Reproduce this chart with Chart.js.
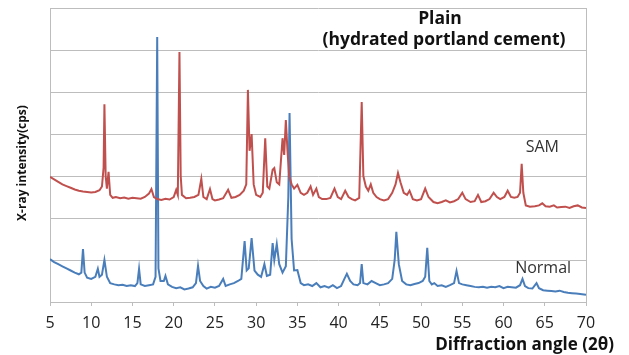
<!DOCTYPE html>
<html>
<head>
<meta charset="utf-8">
<script src="https://cdn.jsdelivr.net/npm/chart.js@4.4.1/dist/chart.umd.min.js"></script>
<style>
  html, body { margin: 0; padding: 0; background: #fff; }
  #wrap { width: 629px; height: 355px; }
</style>
</head>
<body>
<div id="wrap"><canvas id="xrdChart" width="629" height="355"></canvas></div>
<script>
// XRD data (intensity in gridline units)
const samAngle = [5.0, 5.5, 6.0, 6.5, 7.0, 7.5, 8.0, 8.5, 9.0, 9.5, 10.0, 10.5, 11.0, 11.3, 11.5, 11.6, 11.75, 11.9, 12.1, 12.3,
  12.6, 13.0, 13.5, 14.0, 14.5, 15.0, 15.5, 16.0, 16.5, 17.0, 17.3, 17.6, 18.0, 18.5, 19.0, 19.5, 20.0, 20.3, 20.5, 20.7,
  20.85, 21.0, 21.5, 22.0, 22.5, 23.0, 23.35, 23.6, 24.0, 24.4, 24.7, 25.0, 25.5, 26.0, 26.6, 27.0, 27.5, 28.0, 28.5, 28.8,
  29.0, 29.2, 29.45, 29.7, 30.0, 30.5, 30.8, 31.1, 31.35, 31.6, 32.0, 32.2, 32.5, 32.8, 33.2, 33.4, 33.6, 33.8, 34.0, 34.3,
  34.6, 35.0, 35.4, 35.8, 36.2, 36.6, 36.9, 37.3, 37.6, 38.0, 38.5, 39.0, 39.5, 39.9, 40.3, 40.8, 41.2, 41.6, 42.0, 42.5,
  42.8, 43.0, 43.3, 43.6, 43.9, 44.2, 44.6, 45.0, 45.5, 46.0, 46.5, 46.9, 47.2, 47.5, 47.9, 48.3, 48.6, 49.0, 49.5, 50.0,
  50.5, 50.9, 51.5, 52.0, 52.5, 53.0, 53.5, 54.0, 54.5, 55.0, 55.4, 56.0, 56.5, 56.9, 57.3, 57.8, 58.3, 58.8, 59.2, 59.6,
  60.1, 60.5, 60.9, 61.3, 61.7, 62.0, 62.2, 62.4, 62.7, 63.2, 63.8, 64.3, 64.7, 65.1, 65.6, 66.1, 66.5, 67.0, 67.5, 68.0,
  68.5, 69.0, 69.5, 70.0];
const samIntensity = [2.98, 2.92, 2.86, 2.80, 2.76, 2.72, 2.68, 2.65, 2.63, 2.62, 2.61, 2.62, 2.66, 2.75, 3.2, 4.71, 3.0, 2.7, 3.1, 2.55,
  2.48, 2.5, 2.47, 2.49, 2.46, 2.48, 2.47, 2.46, 2.5, 2.58, 2.69, 2.5, 2.45, 2.43, 2.46, 2.44, 2.5, 2.67, 2.55, 5.95,
  3.0, 2.55, 2.47, 2.48, 2.5, 2.55, 2.93, 2.5, 2.45, 2.69, 2.45, 2.42, 2.44, 2.47, 2.67, 2.48, 2.5, 2.55, 2.65, 2.8,
  5.05, 3.6, 4.0, 2.8, 2.55, 2.5, 2.6, 3.9, 2.75, 2.7, 3.15, 3.19, 2.85, 2.8, 3.9, 3.5, 4.33, 3.6, 3.0, 2.8,
  2.7, 2.79, 2.6, 2.55, 2.6, 2.75, 2.55, 2.7, 2.5, 2.45, 2.45, 2.48, 2.7, 2.5, 2.45, 2.65, 2.5, 2.45, 2.42, 2.48,
  4.76, 3.0, 2.75, 2.65, 2.8, 2.6, 2.5, 2.45, 2.42, 2.45, 2.6, 2.8, 3.07, 2.85, 2.6, 2.55, 2.65, 2.45, 2.42, 2.45,
  2.7, 2.5, 2.38, 2.35, 2.38, 2.42, 2.37, 2.4, 2.45, 2.6, 2.45, 2.38, 2.4, 2.55, 2.38, 2.4, 2.45, 2.6, 2.5, 2.45,
  2.5, 2.65, 2.5, 2.48, 2.5, 2.6, 3.29, 2.6, 2.3, 2.27, 2.28, 2.3, 2.35, 2.28, 2.27, 2.3, 2.25, 2.26, 2.27, 2.24,
  2.28, 2.3, 2.25, 2.24];

const normalAngle = [5.0, 5.5, 6.0, 6.5, 7.0, 7.5, 8.0, 8.5, 8.8, 9.0, 9.2, 9.5, 10.0, 10.5, 10.8, 11.0, 11.3, 11.6, 11.9, 12.3,
  12.8, 13.3, 13.8, 14.3, 14.8, 15.3, 15.6, 15.8, 16.0, 16.5, 17.0, 17.5, 17.8, 18.0, 18.15, 18.4, 18.8, 19.0, 19.3, 19.8,
  20.3, 20.8, 21.3, 21.8, 22.3, 22.7, 22.95, 23.2, 23.6, 24.0, 24.5, 25.0, 25.5, 26.0, 26.3, 26.8, 27.3, 27.8, 28.2, 28.6,
  28.85, 29.1, 29.45, 29.8, 30.2, 30.6, 31.0, 31.3, 31.7, 32.0, 32.2, 32.5, 32.8, 33.2, 33.6, 33.9, 34.05, 34.3, 34.6, 35.0,
  35.4, 35.8, 36.3, 36.8, 37.3, 37.8, 38.3, 38.8, 39.3, 39.8, 40.3, 40.7, 41.0, 41.4, 41.8, 42.3, 42.6, 42.8, 43.0, 43.5,
  44.0, 44.5, 45.0, 45.5, 46.0, 46.5, 46.8, 47.0, 47.3, 47.7, 48.2, 48.7, 49.2, 49.7, 50.2, 50.5, 50.75, 51.0, 51.3, 51.6,
  52.0, 52.5, 53.0, 53.5, 54.0, 54.3, 54.6, 55.0, 55.5, 56.0, 56.5, 57.0, 57.5, 58.0, 58.5, 59.0, 59.5, 60.0, 60.5, 61.0,
  61.5, 62.0, 62.3, 62.6, 63.0, 63.5, 64.0, 64.3, 64.8, 65.3, 65.8, 66.3, 66.8, 67.3, 67.8, 68.3, 68.8, 69.3, 70.0];
const normalIntensity = [1.02, 0.95, 0.9, 0.85, 0.8, 0.75, 0.7, 0.66, 0.7, 1.26, 0.7, 0.58, 0.55, 0.6, 0.79, 0.6, 0.65, 1.0, 0.6, 0.45,
  0.42, 0.4, 0.41, 0.38, 0.4, 0.38, 0.45, 0.79, 0.42, 0.38, 0.4, 0.42, 0.6, 6.31, 0.8, 0.5, 0.5, 0.62, 0.42, 0.36,
  0.33, 0.35, 0.3, 0.32, 0.35, 0.45, 0.86, 0.5, 0.38, 0.32, 0.36, 0.34, 0.38, 0.55, 0.38, 0.42, 0.45, 0.5, 0.55, 1.45,
  0.75, 0.8, 1.52, 0.75, 0.65, 0.6, 0.9, 0.62, 0.65, 1.4, 1.0, 1.38, 0.9, 0.7, 0.85, 2.5, 4.5, 1.5, 0.75, 0.76,
  0.45, 0.4, 0.42, 0.38, 0.45, 0.35, 0.38, 0.34, 0.4, 0.33, 0.38, 0.55, 0.67, 0.5, 0.42, 0.4, 0.45, 0.9, 0.45, 0.42,
  0.5, 0.45, 0.4, 0.42, 0.45, 0.55, 1.0, 1.67, 0.9, 0.5, 0.42, 0.4, 0.43, 0.45, 0.5, 0.6, 1.29, 0.5, 0.42, 0.45,
  0.38, 0.4, 0.36, 0.4, 0.45, 0.74, 0.45, 0.42, 0.4, 0.38, 0.36, 0.35, 0.36, 0.34, 0.36, 0.35, 0.38, 0.33, 0.36, 0.35,
  0.34, 0.4, 0.55, 0.38, 0.33, 0.32, 0.45, 0.33, 0.28, 0.27, 0.26, 0.25, 0.27, 0.24, 0.22, 0.21, 0.2, 0.19, 0.17];

// Series names and where their labels sit (in data units)
const seriesNames = ['SAM', 'Normal'];
const labelAngle = [64.7, 64.8];
const labelIntensity = [3.69, 0.79];

const titleLines = ['Plain', '(hydrated portland cement)'];
const xTitle = 'Diffraction angle (2\u03b8)';
const yTitle = 'X-ray intensity(cps)';

const FONT = "'Open Sans', Lato, sans-serif";
const GRID = '#bdbdbd';

function toPoints(xs, ys) {
  return xs.map((x, i) => ({ x: x, y: ys[i] }));
}

// Texts inside the plot + frame
const textPlugin = {
  id: 'textPlugin',
  afterDraw(chart) {
    const ctx = chart.ctx;
    const area = chart.chartArea;
    const xs = chart.scales.x;
    const ys = chart.scales.y;
    ctx.save();

    // right side of the frame
    ctx.strokeStyle = GRID;
    ctx.lineWidth = 1;
    ctx.beginPath();
    ctx.moveTo(area.right + 0.5, area.top);
    ctx.lineTo(area.right + 0.5, area.bottom);
    ctx.stroke();

    // title
    ctx.fillStyle = '#111';
    ctx.textAlign = 'center';
    ctx.textBaseline = 'middle';
    ctx.font = 'bold 17.5px ' + FONT;
    ctx.fillText(titleLines[0], 440, 19);
    ctx.fillText(titleLines[1], 444, 40);

    // series labels
    ctx.font = '16px ' + FONT;
    ctx.fillStyle = '#333';
    seriesNames.forEach((name, i) => {
      ctx.fillText(name, xs.getPixelForValue(labelAngle[i]), ys.getPixelForValue(labelIntensity[i]));
    });

    // x axis title
    ctx.font = 'bold 17px ' + FONT;
    ctx.fillStyle = '#111';
    ctx.textAlign = 'right';
    ctx.fillText(xTitle, 614, 345);

    // y axis title
    ctx.translate(23, 163);
    ctx.rotate(-Math.PI / 2);
    ctx.textAlign = 'center';
    ctx.font = 'bold 12px ' + FONT;
    ctx.fillText(yTitle, 0, 0);
    ctx.restore();
  }
};

const ctxXrd = document.getElementById('xrdChart').getContext('2d');
const xrdChart = new Chart(ctxXrd, {
  type: 'scatter',
  data: {
    datasets: [
      {
        label: seriesNames[0],
        data: toPoints(samAngle, samIntensity),
        showLine: true,
        borderColor: '#c0504d',
        borderWidth: 2,
        pointRadius: 0,
        tension: 0
      },
      {
        label: seriesNames[1],
        data: toPoints(normalAngle, normalIntensity),
        showLine: true,
        borderColor: '#4a7ebb',
        borderWidth: 2,
        pointRadius: 0,
        tension: 0
      }
    ]
  },
  options: {
    responsive: false,
    animation: false,
    layout: { padding: { top: 8, right: 43, bottom: 0, left: 0 } },
    plugins: {
      legend: { display: false },
      tooltip: { enabled: false }
    },
    scales: {
      x: {
        type: 'linear',
        min: 5,
        max: 70,
        ticks: {
          stepSize: 5,
          padding: 8,
          color: '#222',
          font: { family: FONT, size: 16 }
        },
        grid: { drawOnChartArea: false, drawTicks: true, tickLength: 4, color: GRID },
        border: { color: GRID },
        afterFit: s => { s.height = 53; }
      },
      y: {
        min: 0,
        max: 7,
        ticks: { stepSize: 1, display: false },
        grid: { color: GRID, drawTicks: false },
        border: { color: GRID },
        afterFit: s => { s.width = 50; }
      }
    }
  },
  plugins: [textPlugin]
});
</script>
</body>
</html>
